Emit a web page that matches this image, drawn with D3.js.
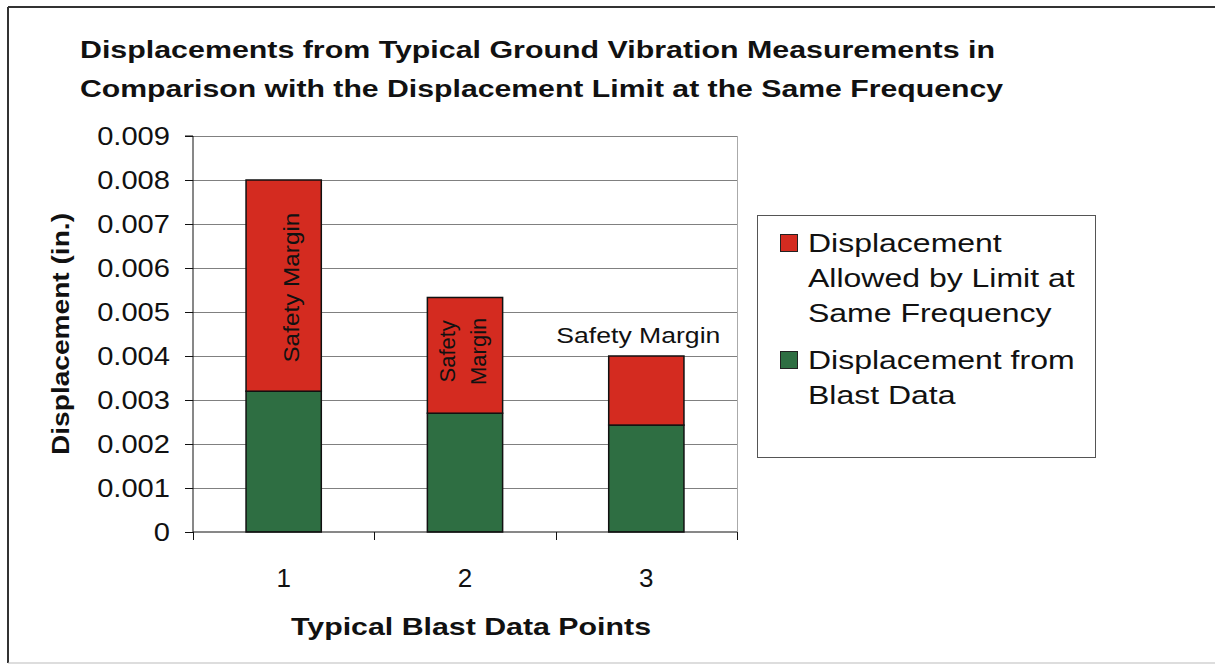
<!DOCTYPE html>
<html><head><meta charset="utf-8">
<script src="https://cdn.jsdelivr.net/npm/d3@7"></script>
<style>body{margin:0;background:#fff;}svg{display:block;font-family:"Liberation Sans",Arial,sans-serif;}</style>
</head><body>
<svg id="chart" width="1215" height="669"></svg>
<script>
const categories = ["1", "2", "3"];
const blastDisplacement = [0.0032, 0.0027, 0.00243];
const limitDisplacement = [0.008, 0.00533, 0.004];
const yTicks = [0, 0.001, 0.002, 0.003, 0.004, 0.005, 0.006, 0.007, 0.008, 0.009];
const yTickLabels = ["0", "0.001", "0.002", "0.003", "0.004", "0.005", "0.006", "0.007", "0.008", "0.009"];
const seriesNames = ["Displacement from Blast Data", "Displacement Allowed by Limit at Same Frequency"];
const titleLines = ["Displacements from Typical Ground Vibration Measurements in", "Comparison with the Displacement Limit at the Same Frequency"];

const svg = d3.select("#chart");
const red = "#d42b20", green = "#2e6e42";
const FONT = "Liberation Sans, Arial, sans-serif";

function stretch(sel, k) {
  sel.each(function() {
    const w = this.getComputedTextLength();
    d3.select(this).attr("textLength", w * k).attr("lengthAdjust", "spacingAndGlyphs");
  });
}

// outer frame
svg.append("line").attr("x1",8).attr("x2",1215).attr("y1",7).attr("y2",7).attr("stroke","#333").attr("stroke-width",2);
svg.append("line").attr("x1",8).attr("x2",8).attr("y1",7).attr("y2",663).attr("stroke","#333").attr("stroke-width",2);
svg.append("line").attr("x1",8).attr("x2",1215).attr("y1",663).attr("y2",663).attr("stroke","#bbb").attr("stroke-width",1);

const L = 193, R = 737, T = 136, B = 532;
const x = d3.scaleBand().domain(categories).range([L, R]).paddingInner(0.585).paddingOuter(0.2925);
const y = d3.scaleLinear().domain([0, 0.009]).range([B, T]);

// gridlines
svg.append("g").selectAll("line").data(yTicks.filter(d=>d>0)).join("line")
  .attr("x1", L).attr("x2", R).attr("y1", d=>Math.round(y(d))+0.5).attr("y2", d=>Math.round(y(d))+0.5)
  .attr("stroke","#808080").attr("stroke-width",1);
svg.append("line").attr("x1",R+0.5).attr("x2",R+0.5).attr("y1",T).attr("y2",B).attr("stroke","#aaa");

// bars
const bars = svg.append("g");
categories.forEach((c,i)=>{
  bars.append("rect").attr("x", x(c)).attr("width", x.bandwidth())
    .attr("y", y(blastDisplacement[i])).attr("height", y(0)-y(blastDisplacement[i]))
    .attr("fill", green).attr("stroke","#111").attr("stroke-width",1.5);
  bars.append("rect").attr("x", x(c)).attr("width", x.bandwidth())
    .attr("y", y(limitDisplacement[i])).attr("height", y(blastDisplacement[i])-y(limitDisplacement[i]))
    .attr("fill", red).attr("stroke","#111").attr("stroke-width",1.5);
});

// axes
const yAxis = d3.axisLeft(y).tickValues(yTicks).tickFormat((d,i)=>yTickLabels[i]).tickSize(8).tickPadding(15);
const gy = svg.append("g").attr("transform",`translate(${L},0)`).call(yAxis);
gy.select(".domain").attr("stroke","#111").attr("d",`M-8,${T}H0V${B}`);
gy.selectAll(".tick line").attr("stroke","#111");
gy.selectAll(".tick text").attr("font-size",26).attr("fill","#111").attr("font-family",FONT);
stretch(gy.selectAll(".tick text"), 1.12);

const xAxis = d3.axisBottom(x).tickSize(0).tickPadding(37);
const gx = svg.append("g").attr("transform",`translate(0,${B})`).call(xAxis);
gx.select(".domain").attr("stroke","#111").attr("d",`M${L},0H${R}`);
gx.selectAll(".tick text").attr("font-size",26).attr("fill","#111").attr("font-family",FONT);
const sepTicks = categories.map(c=> x(c) - x.step()*x.paddingInner()/2).slice(1).concat([L, R]);
svg.append("g").selectAll("line").data(sepTicks).join("line")
  .attr("x1",d=>Math.round(d)+0.5).attr("x2",d=>Math.round(d)+0.5).attr("y1",B).attr("y2",B+8).attr("stroke","#111");

// titles
const titleW = [915, 923];
svg.append("g").selectAll("text").data(titleLines).join("text")
  .attr("x",80).attr("y",(d,i)=>58+i*39).attr("font-size",23.5).attr("font-weight","bold").attr("fill","#111")
  .attr("textLength",(d,i)=>titleW[i]).attr("lengthAdjust","spacingAndGlyphs")
  .text(d=>d);
svg.append("text").attr("transform","translate(69,334) rotate(-90)").attr("text-anchor","middle")
  .attr("font-size",24).attr("font-weight","bold").attr("fill","#111")
  .attr("textLength",242).attr("lengthAdjust","spacingAndGlyphs").text("Displacement (in.)");
svg.append("text").attr("x",471).attr("y",635).attr("text-anchor","middle")
  .attr("font-size",24).attr("font-weight","bold").attr("fill","#111")
  .attr("textLength",360).attr("lengthAdjust","spacingAndGlyphs").text("Typical Blast Data Points");

// Safety margin labels
const cx = c => x(c) + x.bandwidth()/2;
svg.append("text").attr("transform",`translate(${cx("1")+15},${(y(limitDisplacement[0])+y(blastDisplacement[0]))/2 + 2}) rotate(-90)`)
  .attr("text-anchor","middle").attr("font-size",22).attr("fill","#111")
  .attr("textLength",150).attr("lengthAdjust","spacingAndGlyphs").text("Safety Margin");
const t2 = svg.append("text").attr("transform",`translate(${cx("2")-10},${(y(limitDisplacement[1])+y(blastDisplacement[1]))/2 - 4}) rotate(-90)`)
  .attr("text-anchor","middle").attr("font-size",22).attr("fill","#111");
t2.append("tspan").attr("x",0).attr("y",0).text("Safety");
t2.append("tspan").attr("x",0).attr("y",31).text("Margin");
svg.append("text").attr("x",cx("3")-8).attr("y",y(limitDisplacement[2])-13).attr("text-anchor","middle")
  .attr("font-size",22).attr("fill","#111").attr("textLength",164).attr("lengthAdjust","spacingAndGlyphs").text("Safety Margin");

// legend
const lg = svg.append("g");
lg.append("rect").attr("x",757.5).attr("y",215.5).attr("width",338).attr("height",242).attr("fill","#fff").attr("stroke","#555");
const legendItems = [
  {name: seriesNames[1], color: red, lines:["Displacement","Allowed by Limit at","Same Frequency"], y0:252},
  {name: seriesNames[0], color: green, lines:["Displacement from","Blast Data"], y0:369}
];
legendItems.forEach(it=>{
  lg.append("rect").attr("x",780.5).attr("y",it.y0-17.5).attr("width",17).attr("height",17)
    .attr("fill",it.color).attr("stroke","#222").attr("stroke-width",1);
  const t = lg.append("text").attr("font-size",26).attr("fill","#111");
  it.lines.forEach((ln,j)=> t.append("tspan").attr("x",808).attr("y",it.y0+j*35).text(ln));
});
stretch(lg.selectAll("tspan"), 1.23);
</script>
</body></html>
